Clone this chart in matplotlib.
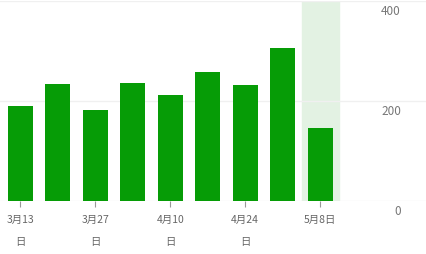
import matplotlib.pyplot as plt

plt.rcParams['font.family'] = ['Noto Sans CJK SC', 'DejaVu Sans']

weeks = ['3月13\n日', '3月20日', '3月27\n日', '4月3日', '4月10\n日', '4月17日', '4月24\n日', '5月1日', '5月8日']
values = [191, 235, 183, 237, 212, 258, 233, 307, 147]
y_ticks = [0, 200, 400]
shown_ticks = [0, 2, 4, 6, 8]

fig = plt.figure(figsize=(4.26, 2.55), dpi=100)
ax = fig.add_axes([0, (255 - 202) / 255, 1, 200 / 255])

x = list(range(len(values)))
ax.axvspan(7.507, 8.493, color='#e3f2e3', zorder=0)
ax.bar(x, values, width=0.66, color='#069c06', zorder=2)

for v in y_ticks:
    ax.axhline(v, color='#f0f0f0', lw=1, zorder=1)
    ax.annotate(str(v), (10.15, v), xytext=(0, -2.5), textcoords='offset points',
                ha='right', va='top', fontsize=8.5, color='#777777')

ax.set_xlim(-0.541, 10.819)
ax.set_ylim(0, 400)
ax.set_xticks(shown_ticks)
ax.set_xticklabels([weeks[i] for i in shown_ticks], fontsize=7.5, color='#666666',
                   linespacing=2.6, va='top')
ax.tick_params(axis='x', length=4, color='#999999', pad=5)
ax.set_yticks([])
for s in ax.spines.values():
    s.set_visible(False)

fig.savefig('out.png', dpi=100)
